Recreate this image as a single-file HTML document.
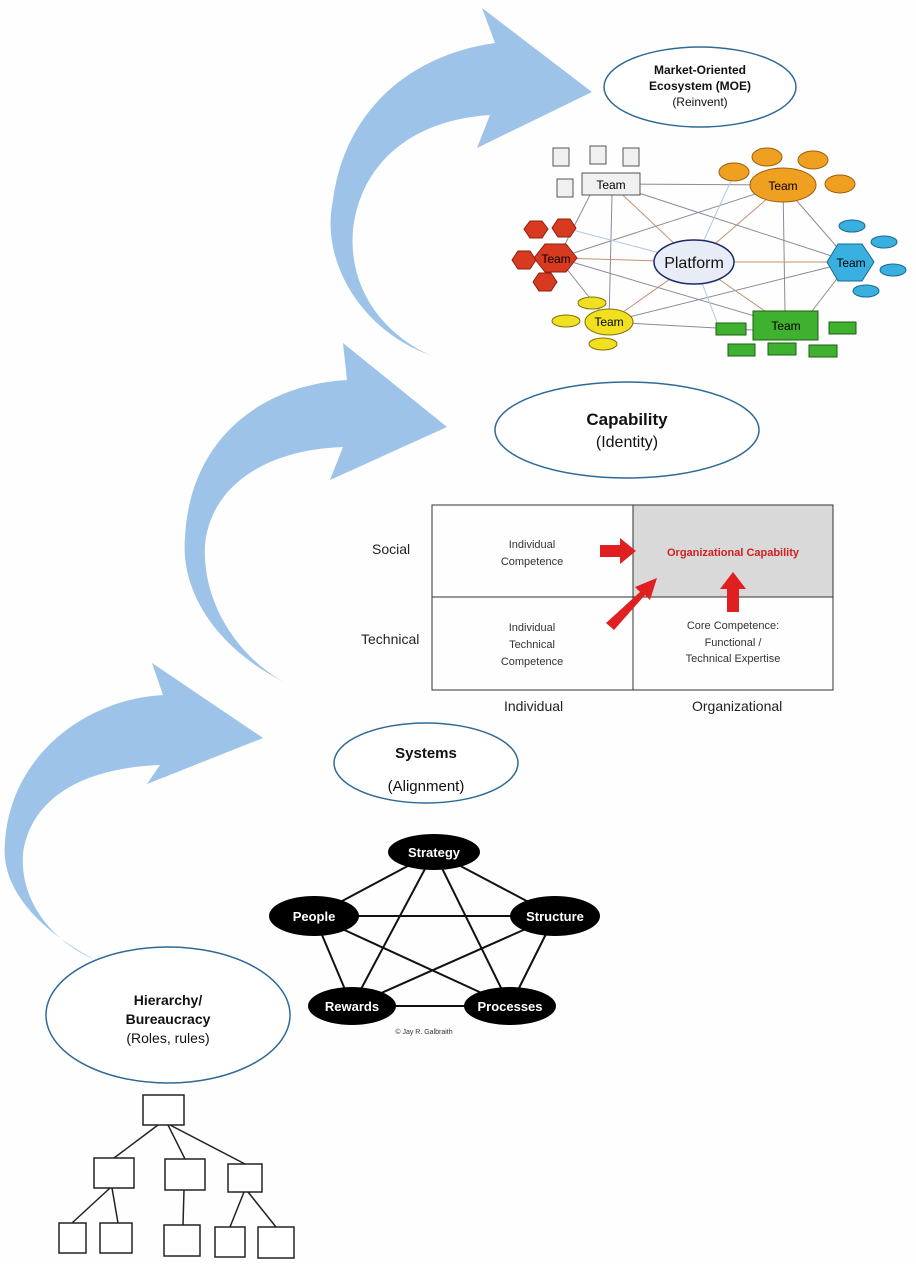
<!DOCTYPE html>
<html><head><meta charset="utf-8"><style>
html,body{margin:0;padding:0;background:#fff}
svg{display:block}
text{font-family:"Liberation Sans",sans-serif}
</style></head><body>
<svg width="916" height="1264" viewBox="0 0 916 1264" xmlns="http://www.w3.org/2000/svg">
<rect width="916" height="1264" fill="#fefefe"/>
<!-- arrows -->
<g fill="#9dc3e8">
<path d="M430,355 C360,330 320,260 333,200 C345,110 410,55 495,43 L482,8 L592,92 L477,148 L490,115 C410,120 360,165 353,230 C348,290 385,335 430,355 Z"/>
<path d="M284,682 C220,650 180,595 185,537 C190,440 260,385 347,380 L343,343 L447,427 L330,480 L343,447 C260,450 210,490 205,545 C202,605 240,658 284,682 Z"/>
<path d="M95,960 C40,930 0,890 5,842 C10,760 80,700 163,695 L152,663 L263,738 L147,784 L160,765 C80,768 30,800 23,854 C20,900 50,940 95,960 Z"/>
</g>
<!-- ellipses -->
<g fill="#fff" stroke="#2f6a96" stroke-width="1.5">
<ellipse cx="700" cy="87" rx="96" ry="40"/>
<ellipse cx="627" cy="430" rx="132" ry="48"/>
<ellipse cx="426" cy="763" rx="92" ry="40"/>
<ellipse cx="168" cy="1015" rx="122" ry="68"/>
</g>
<g text-anchor="middle" fill="#111">
<text x="700" y="74" font-size="12" font-weight="bold">Market-Oriented</text>
<text x="700" y="90" font-size="12" font-weight="bold">Ecosystem (MOE)</text>
<text x="700" y="106" font-size="12">(Reinvent)</text>
<text x="627" y="425" font-size="17" font-weight="bold">Capability</text>
<text x="627" y="447" font-size="16">(Identity)</text>
<text x="426" y="758" font-size="15" font-weight="bold">Systems</text>
<text x="426" y="791" font-size="15">(Alignment)</text>
<text x="168" y="1005" font-size="14" font-weight="bold">Hierarchy/</text>
<text x="168" y="1024" font-size="14" font-weight="bold">Bureaucracy</text>
<text x="168" y="1043" font-size="14">(Roles, rules)</text>
</g>
<!-- network -->
<g stroke-width="1">
<g stroke="#8a8a99">
<line x1="611" y1="184" x2="783" y2="185"/><line x1="611" y1="184" x2="850" y2="262"/>
<line x1="590" y1="195" x2="558" y2="258"/><line x1="612" y1="195" x2="609" y2="322"/>
<line x1="558" y1="258" x2="783" y2="185"/><line x1="558" y1="258" x2="785" y2="325"/>
<line x1="783" y1="185" x2="785" y2="311"/><line x1="783" y1="185" x2="850" y2="262"/>
<line x1="609" y1="322" x2="850" y2="262"/><line x1="609" y1="322" x2="753" y2="330"/>
<line x1="850" y1="262" x2="812" y2="311"/><line x1="558" y1="258" x2="609" y2="322"/>
</g>
<g stroke="#c8906e">
<line x1="611" y1="184" x2="694" y2="262"/><line x1="558" y1="258" x2="694" y2="262"/>
<line x1="783" y1="185" x2="694" y2="262"/><line x1="850" y1="262" x2="694" y2="262"/>
<line x1="609" y1="322" x2="694" y2="262"/><line x1="785" y1="325" x2="694" y2="262"/>
</g>
<g stroke="#b0c8e0">
<line x1="565" y1="228" x2="694" y2="262"/><line x1="735" y1="172" x2="694" y2="262"/><line x1="720" y1="330" x2="694" y2="262"/>
</g>
</g>
<!-- gray -->
<g fill="#f0f0f0" stroke="#555">
<rect x="582" y="173" width="58" height="22"/>
<rect x="553" y="148" width="16" height="18"/><rect x="590" y="146" width="16" height="18"/><rect x="623" y="148" width="16" height="18"/><rect x="557" y="179" width="16" height="18"/>
</g>
<text x="611" y="189" font-size="12" text-anchor="middle">Team</text>
<!-- orange -->
<g fill="#f0a020" stroke="#9a6010">
<ellipse cx="783" cy="185" rx="33" ry="17"/>
<ellipse cx="734" cy="172" rx="15" ry="9"/><ellipse cx="767" cy="157" rx="15" ry="9"/><ellipse cx="813" cy="160" rx="15" ry="9"/><ellipse cx="840" cy="184" rx="15" ry="9"/>
</g>
<text x="783" y="190" font-size="12" text-anchor="middle">Team</text>
<!-- red -->
<g fill="#d83a20" stroke="#8a2010">
<polygon points="545,244 566,244 577,258 566,272 545,272 534,258"/>
<polygon points="530,221 542,221 548,229 542,238 530,238 524,229"/>
<polygon points="558,219 570,219 576,228 570,237 558,237 552,228"/>
<polygon points="518,251 530,251 536,260 530,269 518,269 512,260"/>
<polygon points="539,273 551,273 557,282 551,291 539,291 533,282"/>
</g>
<text x="556" y="263" font-size="12" text-anchor="middle">Team</text>
<!-- blue -->
<g fill="#3ab0e0" stroke="#1a6a90">
<polygon points="838,244 862,244 874,262 862,281 838,281 827,262"/>
<ellipse cx="852" cy="226" rx="13" ry="6"/><ellipse cx="884" cy="242" rx="13" ry="6"/><ellipse cx="893" cy="270" rx="13" ry="6"/><ellipse cx="866" cy="291" rx="13" ry="6"/>
</g>
<text x="851" y="267" font-size="12" text-anchor="middle">Team</text>
<!-- yellow -->
<g fill="#f0e020" stroke="#807010">
<ellipse cx="609" cy="322" rx="24" ry="13"/>
<ellipse cx="592" cy="303" rx="14" ry="6"/><ellipse cx="566" cy="321" rx="14" ry="6"/><ellipse cx="603" cy="344" rx="14" ry="6"/>
</g>
<text x="609" y="326" font-size="12" text-anchor="middle">Team</text>
<!-- green -->
<g fill="#40b030" stroke="#1a6010">
<rect x="753" y="311" width="65" height="29"/>
<rect x="716" y="323" width="30" height="12"/><rect x="829" y="322" width="27" height="12"/><rect x="728" y="344" width="27" height="12"/><rect x="768" y="343" width="28" height="12"/><rect x="809" y="345" width="28" height="12"/>
</g>
<text x="786" y="330" font-size="12" text-anchor="middle">Team</text>
<ellipse cx="694" cy="262" rx="40" ry="22" fill="#e8ecf6" stroke="#1a2a6a" stroke-width="1.5"/>
<text x="694" y="268" font-size="16" text-anchor="middle" fill="#111">Platform</text>
<!-- grid -->
<rect x="633" y="505" width="200" height="92" fill="#d9d9d9"/>
<rect x="432" y="505" width="401" height="185" fill="none" stroke="#333" stroke-width="1"/>
<line x1="633" y1="505" x2="633" y2="690" stroke="#333"/>
<line x1="432" y1="597" x2="833" y2="597" stroke="#333"/>
<g font-size="11" fill="#333" text-anchor="middle">
<text x="532" y="548">Individual</text><text x="532" y="565">Competence</text>
<text x="532" y="631">Individual</text><text x="532" y="648">Technical</text><text x="532" y="665">Competence</text>
<text x="733" y="629">Core Competence:</text><text x="733" y="646">Functional /</text><text x="733" y="662">Technical Expertise</text>
<text x="733" y="556" fill="#d02020" font-weight="bold">Organizational Capability</text>
</g>
<g font-size="14" fill="#222">
<text x="372" y="554">Social</text><text x="361" y="644">Technical</text>
<text x="504" y="711">Individual</text><text x="692" y="711">Organizational</text>
</g>
<g fill="#e02020">
<polygon points="600,545 620,545 620,538 636,551 620,564 620,557 600,557"/>
<polygon points="727,612 727,589 720,589 733,572 746,589 739,589 739,612"/>
<polygon points="606,623 640,592 635,587 657,578 650,600 645,595 614,630"/>
</g>
<!-- pentagon -->
<g stroke="#111" stroke-width="2">
<line x1="434" y1="852" x2="314" y2="916"/><line x1="434" y1="852" x2="555" y2="916"/>
<line x1="434" y1="852" x2="352" y2="1006"/><line x1="434" y1="852" x2="510" y2="1006"/>
<line x1="314" y1="916" x2="555" y2="916"/><line x1="314" y1="916" x2="352" y2="1006"/>
<line x1="314" y1="916" x2="510" y2="1006"/><line x1="555" y1="916" x2="352" y2="1006"/>
<line x1="555" y1="916" x2="510" y2="1006"/><line x1="352" y1="1006" x2="510" y2="1006"/>
</g>
<g fill="#000">
<ellipse cx="434" cy="852" rx="46" ry="18"/><ellipse cx="314" cy="916" rx="45" ry="20"/><ellipse cx="555" cy="916" rx="45" ry="20"/>
<ellipse cx="352" cy="1006" rx="44" ry="19"/><ellipse cx="510" cy="1006" rx="46" ry="19"/>
</g>
<g fill="#fff" font-size="13" font-weight="bold" text-anchor="middle">
<text x="434" y="857">Strategy</text><text x="314" y="921">People</text><text x="555" y="921">Structure</text>
<text x="352" y="1011">Rewards</text><text x="510" y="1011">Processes</text>
</g>
<text x="424" y="1034" font-size="7" fill="#333" text-anchor="middle">© Jay R. Galbraith</text>
<!-- hierarchy -->
<g stroke="#222" stroke-width="1.5" fill="none">
<line x1="158" y1="1125" x2="114" y2="1158"/><line x1="168" y1="1125" x2="185" y2="1159"/><line x1="170" y1="1125" x2="245" y2="1164"/>
<line x1="110" y1="1188" x2="72" y2="1223"/><line x1="112" y1="1188" x2="118" y2="1223"/>
<line x1="184" y1="1190" x2="183" y2="1225"/>
<line x1="244" y1="1192" x2="230" y2="1227"/><line x1="248" y1="1192" x2="276" y2="1227"/>
<g fill="#fff">
<rect x="143" y="1095" width="41" height="30"/>
<rect x="94" y="1158" width="40" height="30"/><rect x="165" y="1159" width="40" height="31"/><rect x="228" y="1164" width="34" height="28"/>
<rect x="59" y="1223" width="27" height="30"/><rect x="100" y="1223" width="32" height="30"/><rect x="164" y="1225" width="36" height="31"/><rect x="215" y="1227" width="30" height="30"/><rect x="258" y="1227" width="36" height="31"/>
</g>
</g>
</svg>
</body></html>
